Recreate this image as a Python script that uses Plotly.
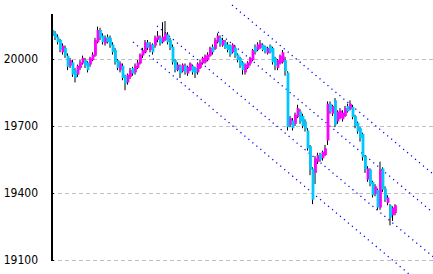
import plotly.graph_objects as go

# ---- data ----
opens = [20130, 20115, 20100, 20085, 20030, 20050, 20015, 19970, 19985, 19950,
         19930, 19960, 19980, 19995, 19985, 19975, 19995, 20015, 20075, 20130,
         20105, 20070, 20100, 20095, 20065, 20040, 19995, 19950, 19970, 19925,
         19895, 19920, 19960, 19940, 19960, 19980, 20015, 20030, 20075, 20040,
         20065, 20060, 20085, 20095, 20075, 20085, 20110, 20085, 20055, 19995,
         19950, 19970, 19945, 19970, 19935, 19950, 19970, 19960, 19940, 19960,
         19980, 19985, 19995, 20015, 20055, 20045, 20075, 20095, 20060, 20075,
         20065, 20060, 20030, 20050, 20020, 20005, 19985, 19940, 19960, 19980,
         19995, 20055, 20040, 20050, 20065, 20055, 20025, 20060, 20050, 20005,
         19960, 19980, 19985, 19995, 19940, 19705, 19725, 19710, 19740, 19765,
         19745, 19720, 19680, 19610, 19510, 19490, 19540, 19575, 19555, 19570,
         19635, 19800, 19755, 19815, 19720, 19735, 19730, 19745, 19790, 19775,
         19785, 19745, 19715, 19690, 19665, 19565, 19460, 19505, 19450, 19395,
         19415, 19335, 19510, 19420, 19355, 19345, 19300, 19310]
highs = [20140, 20125, 20110, 20090, 20070, 20060, 20025, 20005, 19995, 19960,
         19975, 19995, 20015, 20005, 19990, 20010, 20030, 20095, 20145, 20140,
         20115, 20105, 20110, 20105, 20075, 20050, 20000, 19990, 19980, 19930,
         19935, 19960, 19965, 19980, 19995, 20025, 20050, 20085, 20085, 20075,
         20070, 20105, 20125, 20105, 20165, 20170, 20120, 20095, 20065, 20000,
         19985, 19975, 19980, 19980, 19970, 19985, 19975, 19965, 19985, 19995,
         20010, 20020, 20030, 20055, 20065, 20095, 20115, 20105, 20095, 20085,
         20075, 20065, 20070, 20060, 20025, 20010, 19990, 19980, 19990, 20010,
         20045, 20065, 20075, 20085, 20070, 20060, 20055, 20065, 20055, 20010,
         20000, 20020, 20040, 20010, 19945, 19745, 19735, 19760, 19795, 19775,
         19755, 19730, 19690, 19615, 19515, 19565, 19580, 19580, 19590, 19615,
         19810, 19810, 19795, 19825, 19770, 19780, 19770, 19790, 19800, 19815,
         19795, 19750, 19720, 19695, 19670, 19570, 19520, 19510, 19455, 19440,
         19420, 19540, 19515, 19430, 19390, 19350, 19340, 19350]
lows = [20095, 20085, 20065, 20030, 20020, 20005, 19950, 19960, 19920, 19895,
        19920, 19950, 19975, 19960, 19940, 19965, 19990, 20010, 20070, 20085,
        20065, 20060, 20070, 20050, 20020, 19975, 19950, 19940, 19905, 19860,
        19885, 19910, 19925, 19930, 19955, 19975, 20005, 20025, 20040, 20030,
        20020, 20050, 20075, 20060, 20070, 20080, 20065, 20040, 19975, 19940,
        19945, 19915, 19940, 19930, 19925, 19945, 19930, 19915, 19930, 19955,
        19975, 19980, 19990, 20010, 20020, 20040, 20070, 20055, 20055, 20045,
        20030, 20010, 20025, 20005, 19985, 19960, 19930, 19930, 19955, 19970,
        19990, 20020, 20035, 20045, 20035, 20025, 20020, 20025, 19975, 19950,
        19950, 19975, 19980, 19925, 19680, 19695, 19680, 19700, 19735, 19710,
        19690, 19675, 19590, 19480, 19350, 19440, 19530, 19540, 19545, 19565,
        19615, 19755, 19745, 19695, 19710, 19730, 19720, 19740, 19760, 19770,
        19730, 19690, 19665, 19630, 19545, 19490, 19450, 19430, 19380, 19385,
        19325, 19325, 19405, 19360, 19345, 19255, 19275, 19300]
closes = [20103, 20095, 20075, 20040, 20060, 20015, 19965, 19995, 19930, 19915,
          19970, 19985, 20005, 19970, 19950, 20005, 20020, 20085, 20130, 20095,
          20075, 20095, 20075, 20060, 20030, 19985, 19960, 19980, 19915, 19890,
          19930, 19950, 19935, 19970, 19985, 20020, 20040, 20075, 20050, 20065,
          20030, 20095, 20105, 20070, 20100, 20115, 20075, 20050, 19985, 19950,
          19975, 19935, 19975, 19940, 19965, 19980, 19940, 19935, 19980, 19985,
          20005, 20015, 20020, 20050, 20030, 20085, 20105, 20065, 20085, 20050,
          20040, 20020, 20065, 20015, 19995, 19970, 19950, 19975, 19985, 20005,
          20040, 20030, 20065, 20070, 20040, 20030, 20050, 20030, 19985, 19970,
          19995, 20015, 20030, 19945, 19695, 19735, 19690, 19750, 19780, 19720,
          19700, 19685, 19600, 19505, 19370, 19555, 19570, 19550, 19585, 19600,
          19800, 19765, 19790, 19705, 19765, 19770, 19760, 19780, 19765, 19800,
          19740, 19700, 19675, 19645, 19560, 19505, 19510, 19440, 19390, 19430,
          19335, 19505, 19415, 19370, 19380, 19290, 19335, 19345]

# trend-channel lines: start / end (bar index, price)
chan_x0 = [71.6, 66.0, 41.6, 32.0]
chan_y0 = [20242, 20121, 20148, 20076]
chan_x1 = [152.0, 152.0, 152.0, 152.0]
chan_y1 = [19485, 19312, 19115, 18947]

tick_vals = [19100, 19400, 19700, 20000]
tick_text = ["19100", "19400", "19700", "20000"]

UP = "#ff00ff"
DOWN = "#00c8ff"

idx = list(range(len(closes)))

# wicks
wx, wy = [], []
for i, h, l in zip(idx, highs, lows):
    wx += [i - 0.2, i - 0.2, None]
    wy += [l, h, None]

# bodies as thick vertical segments, split by direction
ux, uy, dx, dy = [], [], [], []
for i, o, c in zip(idx, opens, closes):
    lo, hi = min(o, c), max(o, c)
    if hi - lo < 4:
        hi = lo + 4
    if c >= o:
        ux += [i, i, None]
        uy += [lo, hi, None]
    else:
        dx += [i, i, None]
        dy += [lo, hi, None]

fig = go.Figure()

for x0, y0, x1, y1 in zip(chan_x0, chan_y0, chan_x1, chan_y1):
    fig.add_trace(go.Scatter(x=[x0, x1], y=[y0, y1], mode="lines",
                             line=dict(color="#0000ff", width=1.3, dash="1.2px,4px"),
                             hoverinfo="skip", showlegend=False))

fig.add_trace(go.Scatter(x=wx, y=wy, mode="lines",
                         line=dict(color="black", width=1),
                         hoverinfo="skip", showlegend=False))
fig.add_trace(go.Scatter(x=ux, y=uy, mode="lines",
                         line=dict(color=UP, width=2.8),
                         hoverinfo="skip", showlegend=False))
fig.add_trace(go.Scatter(x=dx, y=dy, mode="lines",
                         line=dict(color=DOWN, width=2.8),
                         hoverinfo="skip", showlegend=False))

# y axis line
fig.add_shape(type="line", xref="x", yref="y", x0=-0.4, x1=-0.4,
              y0=19100, y1=20201, line=dict(color="black", width=2))

fig.update_layout(
    width=433, height=274,
    margin=dict(l=51, r=0, t=0, b=0),
    paper_bgcolor="white", plot_bgcolor="white",
    showlegend=False,
    xaxis=dict(visible=False, range=[-0.8, 152.0], fixedrange=True),
    yaxis=dict(range=[19037.3, 20264.2], tickvals=tick_vals, ticktext=tick_text,
               showgrid=True, gridcolor="#c0c0c0", griddash="4px,3px", gridwidth=1,
               zeroline=False, showline=False,
               ticks="inside", ticklen=3, tickcolor="black", tickwidth=1,
               ticklabelstandoff=12,
               tickfont=dict(family="Liberation Sans Narrow, DejaVu Sans Condensed, Liberation Sans",
                             size=12, color="black")),
)

fig.write_html("out.html")
